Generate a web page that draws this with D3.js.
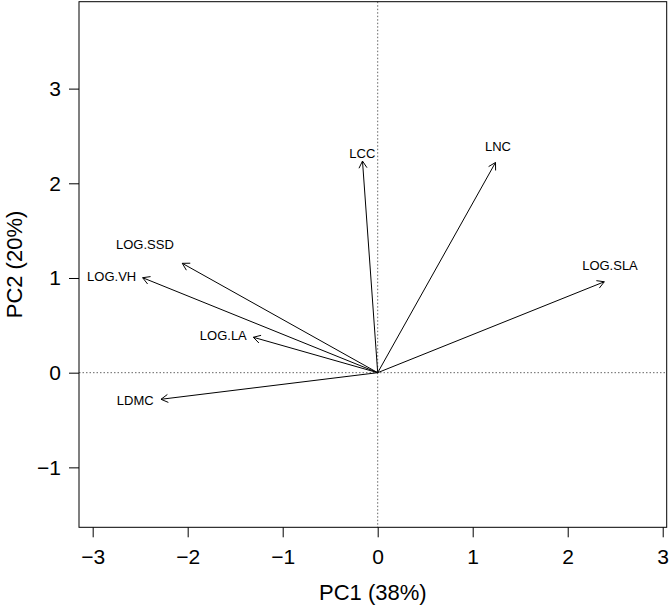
<!DOCTYPE html>
<html>
<head>
<meta charset="utf-8">
<script src="https://cdn.jsdelivr.net/npm/d3@7"></script>
<style>
  html, body { margin: 0; padding: 0; background: #fff; }
  svg { display: block; font-family: "Liberation Sans", Arial, Helvetica, sans-serif; }
</style>
</head>
<body>
<svg id="chart" width="669" height="607"></svg>
<script>
// Variable names
const variables = ["LCC", "LNC", "LOG.SLA", "LOG.SSD", "LOG.VH", "LOG.LA", "LDMC"];
// Arrow tip coordinates (PC1, PC2 loadings, scaled)
const pc1 = [-0.16, 1.24, 2.385, -2.057, -2.474, -1.309, -2.281];
const pc2 = [2.235, 2.22, 0.96, 1.155, 1.003, 0.374, -0.281];
// Label positions
const labelPc1 = [-0.162, 1.266, 2.445, -2.45, -2.8, -1.625, -2.552];
const labelPc2 = [2.315, 2.387, 1.127, 1.349, 1.014, 0.388, -0.299];
// Ticks
const xTicks = [-3, -2, -1, 0, 1, 2, 3];
const yTicks = [-1, 0, 1, 2, 3];
const xTitle = "PC1 (38%)";
const yTitle = "PC2 (20%)";

const svg = d3.select("#chart");
const mLeft = 79, mRight = 666.7, mTop = 1.7, mBottom = 527.3;

const x = d3.scaleLinear().domain([-3.144, 3.042]).range([mLeft, mRight]);
const y = d3.scaleLinear().domain([-1.633, 3.918]).range([mBottom, mTop]);

// Reference lines (dotted)
svg.append("line")
  .attr("x1", x(0)).attr("x2", x(0)).attr("y1", mTop).attr("y2", mBottom)
  .attr("stroke", "#666").attr("stroke-width", 1).attr("stroke-dasharray", "1.5,2");
svg.append("line")
  .attr("x1", mLeft).attr("x2", mRight).attr("y1", y(0)).attr("y2", y(0))
  .attr("stroke", "#666").attr("stroke-width", 1).attr("stroke-dasharray", "1.5,2");

// Box
svg.append("rect")
  .attr("x", mLeft).attr("y", mTop).attr("width", mRight - mLeft).attr("height", mBottom - mTop)
  .attr("fill", "none").attr("stroke", "#000").attr("stroke-width", 1);

// X axis
const xAxis = d3.axisBottom(x).tickValues(xTicks).tickSize(10).tickPadding(12)
  .tickFormat(d => d < 0 ? "\u2212" + Math.abs(d) : String(d));
const gx = svg.append("g").attr("transform", `translate(0,${mBottom})`).call(xAxis);
gx.select(".domain").remove();
gx.selectAll("text").attr("font-size", 21).attr("fill", "#000").attr("font-family", "Liberation Sans, Arial, sans-serif");

// Y axis
const yAxis = d3.axisLeft(y).tickValues(yTicks).tickSize(10).tickPadding(8)
  .tickFormat(d => d < 0 ? "\u2212" + Math.abs(d) : String(d));
const gy = svg.append("g").attr("transform", `translate(${mLeft},0)`).call(yAxis);
gy.select(".domain").remove();
gy.selectAll("text").attr("font-size", 21).attr("fill", "#000").attr("font-family", "Liberation Sans, Arial, sans-serif");

// Axis titles
svg.append("text")
  .attr("x", (mLeft + mRight) / 2).attr("y", 600)
  .attr("text-anchor", "middle").attr("font-size", 22).attr("fill", "#000")
  .text(xTitle);
svg.append("text")
  .attr("transform", `translate(22,${(mTop + mBottom) / 2}) rotate(-90)`)
  .attr("text-anchor", "middle").attr("font-size", 22).attr("fill", "#000")
  .text(yTitle);

// Arrows
const data = variables.map((v, i) => ({ name: v, x: pc1[i], y: pc2[i], lx: labelPc1[i], ly: labelPc2[i] }));
const headLen = 8, headAng = Math.PI / 6;
const g = svg.append("g");
data.forEach(d => {
  const x0 = x(0), y0 = y(0), x1 = x(d.x), y1 = y(d.y);
  const ang = Math.atan2(y1 - y0, x1 - x0);
  g.append("line").attr("x1", x0).attr("y1", y0).attr("x2", x1).attr("y2", y1)
    .attr("stroke", "#000").attr("stroke-width", 1);
  const p = d3.path();
  p.moveTo(x1 - headLen * Math.cos(ang - headAng), y1 - headLen * Math.sin(ang - headAng));
  p.lineTo(x1, y1);
  p.lineTo(x1 - headLen * Math.cos(ang + headAng), y1 - headLen * Math.sin(ang + headAng));
  g.append("path").attr("d", p.toString()).attr("fill", "none").attr("stroke", "#000").attr("stroke-width", 1);
  g.append("text").attr("x", x(d.lx)).attr("y", y(d.ly))
    .attr("text-anchor", "middle").attr("dominant-baseline", "central")
    .attr("font-size", 13).attr("fill", "#000").text(d.name);
});
</script>
</body>
</html>
